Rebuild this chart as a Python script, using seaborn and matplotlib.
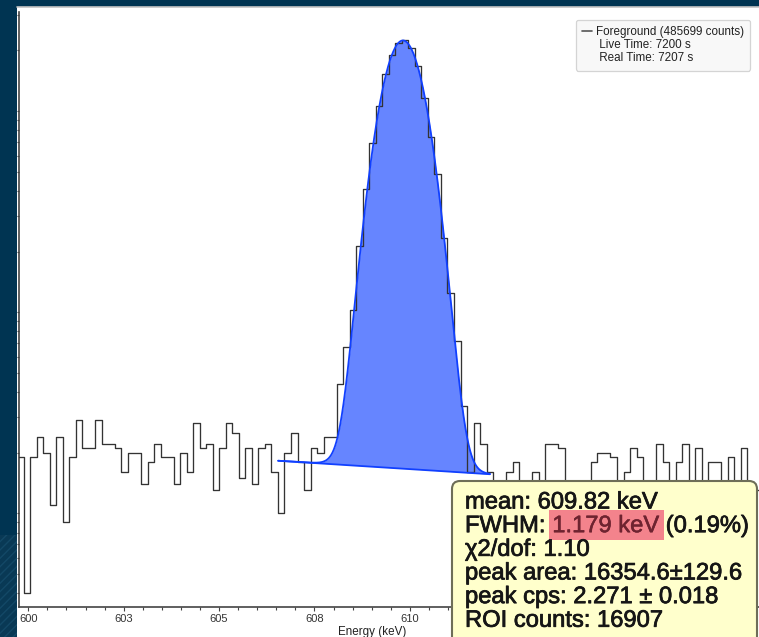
import numpy as np
import pandas as pd
import matplotlib
matplotlib.use("Agg")
import matplotlib.pyplot as plt
import matplotlib.patheffects as pe
import seaborn as sns
from matplotlib.patches import Rectangle, FancyBboxPatch
from matplotlib.lines import Line2D
from matplotlib.transforms import IdentityTransform
from matplotlib.ticker import MultipleLocator, LogLocator, NullFormatter

# ---------------- data ----------------
bin_start = 599.708      # keV, lower edge of first (partly visible) channel
bin_width = 0.1709       # keV per channel
counts = [19, 4, 19, 24, 20, 11, 24, 9, 19, 29, 21, 21, 29, 22, 22, 21, 16, 20, 20, 14,
          18, 22, 19, 19, 14, 20, 16, 28, 21, 22, 13, 21, 28, 25, 15, 21, 14, 21, 22, 16,
          10, 20, 25, 18, 13, 21, 20, 24, 24, 44, 67, 102, 213, 409, 691, 1059, 1523, 1900,
          2172, 2256, 2065, 1675, 1157, 745, 486, 233, 124, 72, 34, 16, 28, 22, 16, 12, 11,
          16, 18, 13, 10, 16, 12, 22, 22, 21, 11, 13, 9, 12, 18, 20, 20, 19, 13, 16, 21, 19,
          12, 14, 22, 18, 11, 18, 22, 12, 21, 13, 18, 18, 11, 19, 14, 21, 12, 13]
tick_values = [600, 602.5, 605, 607.5, 610, 612.5, 615, 617.5]
tick_labels = ["600", "603", "605", "608", "610", "613", "615", "618"]

peak_mean = 609.82       # keV
peak_fwhm = 1.179        # keV
peak_area = 16354.6
peak_area_err = 129.6
peak_cps = 2.271
peak_cps_err = 0.018
chi2_dof = 1.10
roi_counts = 16907
roi_lo, roi_hi = 606.55, 612.10   # keV
cont_lo, cont_hi = 18.2, 15.6     # continuum counts/channel at ROI ends

fg_counts = 485699
live_time = 7200
real_time = 7207

# ---------------- style ----------------
W, H = 759, 637
sns.set_style("white")
plt.rcParams["font.family"] = ["Liberation Sans", "DejaVu Sans"]

fig = plt.figure(figsize=(W / 100, H / 100), dpi=100)
fig.set_facecolor("#003452")
PX = IdentityTransform()

# white panel + top border line + hatched corner
fig.add_artist(Rectangle((17, 0), W - 17, H - 7, transform=PX, facecolor="white",
                         edgecolor="none", zorder=-3))
fig.add_artist(Line2D([17, W], [H - 7, H - 7], transform=PX, color="#c4c4c4", lw=1.2, zorder=-2))
fig.add_artist(Rectangle((0, 0), 17, 102, transform=PX, facecolor="#093955",
                         edgecolor="#134866", hatch="////", lw=0, zorder=-2))

ax_l, ax_r, ax_t, ax_b = 18.5, W, 12, 606.7
ax = fig.add_axes([ax_l / W, 1 - ax_b / H, (ax_r - ax_l) / W, (ax_b - ax_t) / H])
ax.set_facecolor("none")
ax.set_yscale("log")

# ---------------- histogram (step outline) ----------------
edges = bin_start + bin_width * np.arange(len(counts) + 1)
step_y = list(counts) + [counts[-1]]
df = pd.DataFrame({"energy": edges, "counts": step_y})
sns.lineplot(data=df, x="energy", y="counts", drawstyle="steps-post", estimator=None,
             sort=False, color="#333333", linewidth=0.95, ax=ax, zorder=3)

# ---------------- peak fit ----------------
sigma = peak_fwhm / (2 * np.sqrt(2 * np.log(2)))
fit_x = np.linspace(roi_lo, roi_hi, 500)
cont = np.interp(fit_x, [roi_lo, roi_hi], [cont_lo, cont_hi])
gauss = peak_area * bin_width / (sigma * np.sqrt(2 * np.pi)) * np.exp(-0.5 * ((fit_x - peak_mean) / sigma) ** 2)
fit_y = cont + gauss
ax.fill_between(fit_x, cont, fit_y, color="#6685ff", lw=0, zorder=2)
sns.lineplot(x=fit_x, y=fit_y, ax=ax, color="#1140ff", lw=1.3, sort=False, estimator=None, zorder=4)
sns.lineplot(x=[roi_lo, roi_hi], y=[cont_lo, cont_hi], ax=ax, color="#1140ff", lw=1.3,
             sort=False, estimator=None, zorder=4)

# ---------------- axes ----------------
x_left = 600 + (ax_l - 28.3) / 38.15
x_right = 600 + (ax_r - 28.3) / 38.15
ax.set_xlim(x_left, x_right)
ax.set_ylim(3.42, 3108)
ax.set_xlabel("")
ax.set_ylabel("")
ax.set_xticks(tick_values)
ax.set_xticklabels(tick_labels)
ax.xaxis.set_minor_locator(MultipleLocator(0.5))
ax.tick_params(axis="x", which="major", bottom=True, length=3.0, width=0.8, color="#444444",
               direction="out", pad=2.2, labelsize=8.0, labelcolor="#333333")
ax.tick_params(axis="x", which="minor", bottom=True, length=2.3, width=0.8, color="#444444",
               direction="out")
ax.yaxis.set_major_locator(LogLocator(base=10, subs=(1.0,)))
ax.yaxis.set_minor_locator(LogLocator(base=10, subs=np.arange(2, 10)))
ax.yaxis.set_major_formatter(NullFormatter())
ax.yaxis.set_minor_formatter(NullFormatter())
ax.tick_params(axis="y", which="both", left=True, length=1.6, width=0.8, color="#444444",
               direction="out")
for s in ["top", "right"]:
    ax.spines[s].set_visible(False)
for s in ["left", "bottom"]:
    ax.spines[s].set_color("#444444")
    ax.spines[s].set_linewidth(1.2)

fig.text(372.5, 2.0, "Energy (keV)", transform=PX, ha="center", va="baseline",
         fontsize=8.4, color="#222222")

# ---------------- legend ----------------
handles = [Line2D([], [], color="#555555", lw=1.2),
           Line2D([], [], color="none"), Line2D([], [], color="none")]
labels = [f"Foreground ({fg_counts} counts)", f" Live Time: {live_time} s", f" Real Time: {real_time} s"]
leg = ax.legend(handles, labels, loc="upper right", bbox_to_anchor=(750 / W, 1 - 20 / H),
                bbox_transform=fig.transFigure, fontsize=8.4, frameon=True, fancybox=True,
                framealpha=1, facecolor="#f8f8f8", edgecolor="#d4d4d4", handlelength=0.78,
                handletextpad=0.35, labelspacing=0.08, borderpad=0.55, borderaxespad=0)
for t in leg.get_texts():
    t.set_color("#222222")
leg.get_frame().set_linewidth(0.9)

# ---------------- tooltip ----------------
tip_x0, tip_y0 = 452, 481
fig.add_artist(FancyBboxPatch((tip_x0, -20), 757 - tip_x0, (H - tip_y0) + 20, transform=PX,
                              boxstyle="round,pad=0,rounding_size=8", facecolor="#ffffcc",
                              edgecolor="#6e6e58", lw=1.5, zorder=10))

# tick labels that fall under the tooltip are hidden, as in the original
fig.canvas.draw()
renderer = fig.canvas.get_renderer()
for lab in ax.get_xticklabels():
    if lab.get_window_extent(renderer).x1 > tip_x0:
        lab.set_visible(False)

fs = 17.1
stroke = [pe.withStroke(linewidth=0.55, foreground="#161616")]
tip_font = dict(fontsize=fs, color="#161616", transform=PX, va="baseline",
                ha="left", zorder=12)
x0 = 465
base0 = 508.5
step = 23.65
pct = peak_fwhm / peak_mean * 100
tip_lines = [f"mean: {peak_mean:.2f} keV",
             None,
             f"χ2/dof: {chi2_dof:.2f}",
             f"peak area: {peak_area:.1f}±{peak_area_err:.1f}",
             f"peak cps: {peak_cps:.3f} ± {peak_cps_err:.3f}",
             f"ROI counts: {roi_counts}"]
for i, line in enumerate(tip_lines):
    yb = H - (base0 + step * i)
    if line is not None:
        fig.text(x0, yb, line, path_effects=stroke, **tip_font)
        continue
    t1 = fig.text(x0, yb, "FWHM:", path_effects=stroke, **tip_font)
    e1 = t1.get_window_extent(renderer)
    a = fig.text(0, 0, "x x", fontsize=fs, transform=PX, alpha=0)
    b = fig.text(0, 0, "xx", fontsize=fs, transform=PX, alpha=0)
    sp = a.get_window_extent(renderer).width - b.get_window_extent(renderer).width
    red = "#6e2330"
    t2 = fig.text(e1.x1 + sp, yb, f"{peak_fwhm:.3f} keV",
                  path_effects=[pe.withStroke(linewidth=0.4, foreground=red)],
                  **{**tip_font, "color": red})
    e2 = t2.get_window_extent(renderer)
    fig.add_artist(Rectangle((e1.x1 + 3, yb - 8), e2.x1 - e1.x1 + 2, 30, transform=PX,
                             facecolor="#f3838c", edgecolor="none", zorder=11))
    fig.text(e2.x1 + sp, yb, f"({pct:.2f}%)", path_effects=stroke, **tip_font)

fig.savefig("out.png", dpi=100, facecolor=fig.get_facecolor())
